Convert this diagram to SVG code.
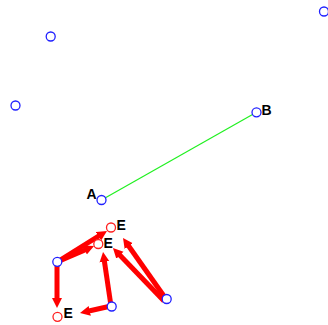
<svg xmlns="http://www.w3.org/2000/svg" width="328" height="325" viewBox="0 0 328 325">
<style>
.bn{fill:#fff;stroke:#2020ff;stroke-width:1.3}
.rn{fill:#fff;stroke:#ff2020;stroke-width:1.3}
.lbl{font-family:"Liberation Sans",Arial,sans-serif;font-weight:bold;font-size:14px;fill:#000}
.arr{stroke:#ff0000;stroke-width:5;fill:none;marker-end:url(#ah)}
</style>
<defs>
<marker id="ah" markerUnits="userSpaceOnUse" markerWidth="12" markerHeight="12" viewBox="0 -6 12 12" refX="2" refY="0" orient="auto">
<path d="M0,-5 L10,0 L0,5 z" fill="#ff0000"/>
</marker>
</defs>
<rect width="328" height="325" fill="#fff"/>
<g id="connectors">
<line x1="101.5" y1="200" x2="256.5" y2="112.3" stroke="#20f020" stroke-width="1.2"/>
<line class="arr" x1="57" y1="262" x2="100.2" y2="235.2"/>
<line class="arr" x1="57" y1="262" x2="86.7" y2="249.2"/>
<line class="arr" x1="57" y1="262" x2="57" y2="300"/>
<line class="arr" x1="111" y1="306" x2="87.8" y2="311.2"/>
<line class="arr" x1="111" y1="306" x2="104.2" y2="259.9"/>
<line class="arr" x1="166" y1="299" x2="127.6" y2="244.5"/>
<line class="arr" x1="164" y1="301" x2="118.5" y2="253.8"/>
</g>
<g id="n1"><circle class="bn" cx="50.7" cy="36.5" r="4.5"/></g>
<g id="n2"><circle class="bn" cx="15.5" cy="105.5" r="4.5"/></g>
<g id="n3"><circle class="bn" cx="324" cy="11.5" r="4.5"/></g>
<g id="nB"><circle class="bn" cx="256.5" cy="112.3" r="4.5"/><text class="lbl" x="261.5" y="115">B</text></g>
<g id="nA"><circle class="bn" cx="101.5" cy="200" r="4.5"/><text class="lbl" x="86.5" y="199">A</text></g>
<g id="nE1"><circle class="rn" cx="111" cy="227.5" r="4.5"/><text class="lbl" x="116.5" y="230">E</text></g>
<g id="nE2"><circle class="rn" cx="98.3" cy="244" r="4.5"/><text class="lbl" x="103.5" y="248">E</text></g>
<g id="nE3"><circle class="rn" cx="57.5" cy="316.8" r="4.5"/><text class="lbl" x="63.5" y="318">E</text></g>
<g id="nb1"><circle class="bn" cx="57.3" cy="261.8" r="4.5"/></g>
<g id="nb2"><circle class="bn" cx="111.7" cy="306.5" r="4.5"/></g>
<g id="nb3"><circle class="bn" cx="166.7" cy="299" r="4.5"/></g>
</svg>
